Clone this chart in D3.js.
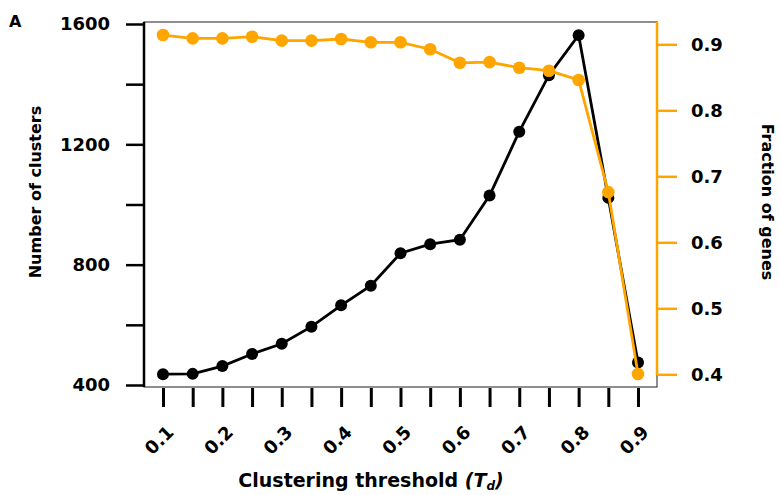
<!DOCTYPE html>
<html>
<head>
<meta charset="utf-8">
<script src="https://cdn.jsdelivr.net/npm/d3@7"></script>
<style>
  body { margin: 0; background: #fff; }
  svg text { font-family: "DejaVu Sans", "Liberation Sans", Arial, sans-serif; font-weight: bold; }
</style>
</head>
<body>
<div id="plot"></div>
<script>
const WIDTH  = 780;
const HEIGHT = 495;

// data
var thresholds = [0.1, 0.15, 0.2, 0.25, 0.3, 0.35, 0.4, 0.45, 0.5, 0.55, 0.6, 0.65, 0.7, 0.75, 0.8, 0.85, 0.9];
var numClusters = [436, 437, 463, 503, 537, 594, 665, 730, 838, 868, 883, 1030, 1242, 1430, 1563, 1022, 475];
var fracGenes = [0.914, 0.909, 0.909, 0.9115, 0.9055, 0.9055, 0.908, 0.903, 0.903, 0.8925, 0.872, 0.873, 0.8645, 0.860, 0.846, 0.676, 0.4005];
var leftTicks = [400, 600, 800, 1000, 1200, 1400, 1600];
var leftLabels = [400, 800, 1200, 1600];
var rightTicks = [0.4, 0.5, 0.6, 0.7, 0.8, 0.9];
var xLabels = [0.1, 0.2, 0.3, 0.4, 0.5, 0.6, 0.7, 0.8, 0.9];

const ORANGE = "#FFA500";

var svg = d3.select("#plot")
    .append("svg")
    .attr("width", WIDTH)
    .attr("height", HEIGHT);

var xScale = d3.scaleLinear().domain([0.1, 0.9]).range([163, 638]);
var yLeft  = d3.scaleLinear().domain([400, 1600]).range([385, 24]);
var yRight = d3.scaleLinear().domain([0.4, 0.9]).range([374.3, 44.3]);

// plot frame
svg.append("rect")
   .attr("x", 144).attr("y", 22)
   .attr("width", 513).attr("height", 365)
   .attr("fill", "none")
   .attr("stroke", "#444")
   .attr("stroke-width", 1.2);

// left axis
var leftAxis = d3.axisLeft(yLeft)
    .tickValues(leftTicks)
    .tickSize(18)
    .tickPadding(16)
    .tickFormat(d => leftLabels.includes(d) ? d : "");
var gl = svg.append("g")
   .attr("transform", "translate(144,0)")
   .call(leftAxis);
gl.select(".domain").attr("stroke", "#000").attr("stroke-width", 2.5)
  .attr("d", "M0,22V387");
gl.selectAll(".tick line").attr("stroke", "#000").attr("stroke-width", 2.5);
gl.selectAll(".tick text").attr("font-size", 18).attr("fill", "#000");

// right axis
var rightAxis = d3.axisRight(yRight)
    .tickValues(rightTicks)
    .tickSize(20)
    .tickPadding(14)
    .tickFormat(d3.format(".1f"));
var gr = svg.append("g")
   .attr("transform", "translate(657,0)")
   .call(rightAxis);
gr.select(".domain").attr("stroke", ORANGE).attr("stroke-width", 2.5)
  .attr("d", "M0,22V375");
gr.selectAll(".tick line").attr("stroke", ORANGE).attr("stroke-width", 2.5);
gr.selectAll(".tick text").attr("font-size", 18).attr("fill", "#000");

// bottom axis
var bottomAxis = d3.axisBottom(xScale)
    .tickValues(thresholds)
    .tickSize(19)
    .tickFormat("");
var gb = svg.append("g")
   .attr("transform", "translate(0,388)")
   .call(bottomAxis);
gb.select(".domain").remove();
gb.selectAll(".tick line").attr("stroke", "#000").attr("stroke-width", 3);

svg.selectAll(".xlabel")
   .data(xLabels)
   .enter()
   .append("text")
   .attr("class", "xlabel")
   .attr("text-anchor", "middle")
   .attr("dominant-baseline", "central")
   .attr("font-size", 18)
   .attr("transform", d => "translate(" + (xScale(d) - 4) + ",440) rotate(-45)")
   .text(d => d.toFixed(1));

// series
var lineBlack = d3.line()
    .x((d, i) => xScale(thresholds[i]))
    .y(d => yLeft(d));
var lineOrange = d3.line()
    .x((d, i) => xScale(thresholds[i]))
    .y(d => yRight(d));

svg.append("path")
   .datum(numClusters)
   .attr("d", lineBlack)
   .attr("fill", "none")
   .attr("stroke", "#000")
   .attr("stroke-width", 2.8);
svg.selectAll(".pt-black")
   .data(numClusters)
   .enter()
   .append("circle")
   .attr("class", "pt-black")
   .attr("cx", (d, i) => xScale(thresholds[i]))
   .attr("cy", d => yLeft(d))
   .attr("r", 6)
   .attr("fill", "#000");

svg.append("path")
   .datum(fracGenes)
   .attr("d", lineOrange)
   .attr("fill", "none")
   .attr("stroke", ORANGE)
   .attr("stroke-width", 2.8);
svg.selectAll(".pt-orange")
   .data(fracGenes)
   .enter()
   .append("circle")
   .attr("class", "pt-orange")
   .attr("cx", (d, i) => xScale(thresholds[i]))
   .attr("cy", d => yRight(d))
   .attr("r", 6.3)
   .attr("fill", ORANGE);

// axis titles
svg.append("text")
   .attr("text-anchor", "middle")
   .attr("font-size", 16)
   .attr("transform", "translate(41,192) rotate(-90)")
   .text("Number of clusters");

svg.append("text")
   .attr("text-anchor", "middle")
   .attr("font-size", 16)
   .attr("transform", "translate(762,202) rotate(90)")
   .text("Fraction of genes");

var xt = svg.append("text")
   .attr("text-anchor", "middle")
   .attr("font-size", 19)
   .attr("x", 371)
   .attr("y", 487);
xt.append("tspan").text("Clustering threshold ");
xt.append("tspan").attr("font-style", "italic").text("(T");
xt.append("tspan").attr("font-style", "italic").attr("font-size", 12).attr("dy", 3).text("d");
xt.append("tspan").attr("font-style", "italic").attr("dy", -3).text(")");

// panel letter
svg.append("text")
   .attr("x", 9)
   .attr("y", 27)
   .attr("font-size", 16)
   .text("A");
</script>
</body>
</html>
